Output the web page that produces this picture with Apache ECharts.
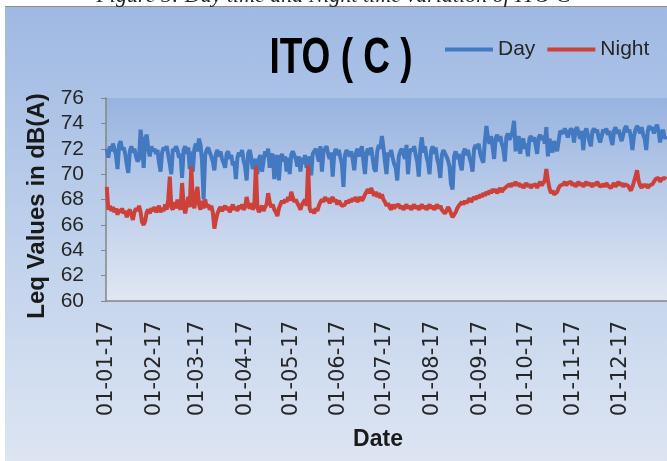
<!DOCTYPE html>
<html>
<head>
<meta charset="utf-8">
<script src="https://cdn.jsdelivr.net/npm/echarts@6/dist/echarts.min.js"></script>
<style>
html,body{margin:0;padding:0;background:#fff;overflow:hidden;}
#bg{position:absolute;left:5px;top:6px;width:680px;height:470px;
 background:linear-gradient(to bottom,#9fb9e3 0%,#bccfeb 45%,#dfe6f3 100%);
 border-top:1px solid #8d8d8d;}
#chart{position:absolute;left:0;top:0;width:667px;height:461px;}
</style>
</head>
<body>
<div id="bg"></div>
<div id="chart"></div>
<script>
// Tick labels on the date axis (first of each month)
const monthTickLabels = ['01-01-17','01-02-17','01-03-17','01-04-17','01-05-17','01-06-17',
  '01-07-17','01-08-17','01-09-17','01-10-17','01-11-17','01-12-17'];
const yTicks = [60,62,64,66,68,70,72,74,76];
const seriesNames = ['Day','Night'];

// Daily Leq (dB(A)) – Day, 2017-01-01 .. 2017-12-31 (one row per week)
const dayValues = [
72.0,71.3,72.2,71.8,72.4,72.0,71.5,
70.4,72.3,72.6,71.9,72.1,71.6,70.8,
70.1,71.8,72.2,71.7,72.0,71.4,71.0,
71.2,73.5,72.4,70.5,72.8,73.1,72.0,
71.4,72.2,71.8,72.0,71.6,71.9,70.9,
70.2,71.7,72.1,71.9,72.2,71.5,70.8,
70.0,72.0,71.8,72.2,71.9,71.3,71.6,
69.7,71.9,72.2,71.6,72.1,70.4,71.8,
70.2,72.0,72.4,71.8,72.8,72.3,71.0,
68.0,71.5,71.9,72.1,71.7,71.4,71.0,
70.3,71.6,71.9,71.4,71.8,71.2,70.9,
70.5,71.6,71.8,71.2,71.5,70.7,71.0,
69.6,71.3,71.7,71.4,71.9,71.1,70.6,
69.5,71.6,71.9,71.3,70.4,70.8,71.2,
70.0,71.2,71.5,70.2,71.0,71.8,71.4,
72.0,70.5,71.4,71.6,69.6,71.0,71.5,
69.5,71.2,71.6,71.0,71.4,70.2,71.3,
70.0,71.5,71.8,71.9,71.2,70.6,71.4,
70.2,71.3,70.8,71.5,70.5,70.9,71.4,
69.9,71.6,71.8,72.0,71.5,71.0,72.2,
70.2,71.8,72.0,72.2,71.6,71.2,71.7,
69.8,71.6,72.0,71.5,71.9,71.3,70.8,
69.0,71.5,71.9,72.0,71.4,71.8,71.2,
70.3,71.6,72.0,71.4,71.8,72.2,71.0,
70.0,71.7,72.0,71.5,72.1,71.3,70.4,
70.2,71.8,72.3,72.0,73.0,72.1,71.0,
70.0,71.7,71.4,71.9,71.3,70.8,70.5,
69.5,71.4,71.8,72.0,71.6,71.2,72.3,
70.0,71.6,72.0,71.8,72.2,71.5,71.0,
69.8,72.0,72.9,71.7,72.2,71.4,70.9,
70.0,71.8,72.2,71.6,72.1,71.2,70.7,
69.7,71.5,71.9,72.0,71.4,71.1,70.6,
69.2,68.8,71.4,71.8,71.2,71.6,70.8,
70.3,71.7,72.0,71.5,71.9,71.3,70.9,
70.2,72.0,72.3,72.0,72.4,71.6,71.2,
70.9,72.6,73.8,72.9,72.4,73.0,72.2,
71.2,72.8,73.1,72.6,73.0,72.4,72.0,
71.0,72.9,73.2,72.7,73.0,73.4,74.2,
71.8,72.6,73.0,71.6,72.5,72.8,72.0,
72.4,71.4,72.8,73.0,72.6,72.9,72.3,
71.6,72.9,73.1,72.7,73.0,72.4,73.7,
71.4,72.8,72.3,71.7,72.6,72.2,71.8,
72.6,73.4,73.5,73.2,73.6,73.3,72.9,
73.3,73.6,73.4,72.5,73.5,73.7,73.2,
72.8,73.4,71.9,73.3,73.6,73.1,72.6,
72.2,73.4,73.6,73.3,73.5,72.9,72.5,
72.4,73.5,73.3,73.6,73.1,73.4,72.8,
72.3,73.4,73.7,73.2,73.5,73.0,72.6,
72.7,73.6,73.8,73.3,73.5,72.9,71.9,
73.0,73.5,73.8,73.6,73.2,73.7,73.1,
72.8,71.9,73.4,73.8,73.5,73.7,73.2,
73.6,73.9,73.4,72.5,73.2,73.5,72.8,
73.0
];

// Daily Leq (dB(A)) – Night
const nightValues = [
69.0,67.2,67.5,67.1,67.4,67.0,67.3,
66.8,67.2,67.0,67.3,66.9,67.1,66.6,
67.0,67.2,66.8,66.4,67.0,67.3,67.1,
67.5,67.0,66.2,66.0,66.3,67.0,67.2,
66.9,67.3,67.1,67.4,67.0,67.2,67.5,
67.0,67.3,67.1,67.6,67.2,68.0,69.8,
67.4,67.2,67.8,67.3,68.0,67.5,67.2,
69.3,67.6,66.9,67.5,68.2,67.4,70.6,
67.8,67.3,68.4,69.0,67.6,67.2,67.9,
67.3,68.0,67.4,67.6,67.2,67.5,67.0,
65.7,66.4,66.9,67.2,67.4,67.1,67.3,
67.5,67.2,67.4,67.0,67.3,67.6,67.2,
67.4,67.1,67.5,67.3,67.6,67.2,67.4,
68.2,67.6,67.3,67.7,67.2,67.5,70.6,
67.4,67.0,67.3,67.5,67.1,67.4,67.6,
68.5,67.8,67.4,67.6,67.2,67.0,66.7,
67.3,67.6,67.9,67.7,68.0,67.8,68.2,
67.9,68.6,68.2,67.8,68.0,67.7,67.5,
67.2,67.6,67.8,68.0,67.5,70.7,67.3,
67.0,67.2,66.9,67.3,67.1,67.5,67.8,
68.0,67.8,68.2,67.9,68.1,67.7,68.0,
68.2,67.8,68.0,67.6,67.9,67.7,67.5,
67.4,67.6,67.9,67.7,68.0,67.8,68.1,
67.9,68.2,67.8,68.0,68.2,67.9,68.1,
68.4,68.6,68.8,68.5,68.9,68.6,68.3,
68.6,68.2,68.5,68.1,68.4,68.0,67.8,
67.5,67.7,67.4,67.2,67.6,67.3,67.5,
67.4,67.6,67.3,67.5,67.2,67.4,67.6,
67.3,67.5,67.2,67.4,67.6,67.3,67.5,
67.2,67.4,67.6,67.3,67.5,67.2,67.4,
67.6,67.3,67.5,67.2,67.4,67.6,67.3,
67.5,67.2,67.3,66.9,67.1,67.4,67.2,
66.9,66.6,66.5,67.0,67.3,67.5,67.6,
67.8,67.6,67.9,67.7,67.9,68.1,67.8,
68.0,68.2,68.0,68.3,68.1,68.4,68.2,
68.5,68.3,68.6,68.4,68.7,68.5,68.8,
68.6,68.8,68.5,68.7,68.9,68.6,68.8,
68.7,69.0,68.9,69.2,69.0,69.3,69.1,
69.4,69.1,69.3,69.0,69.2,68.9,69.1,
69.3,69.0,69.2,68.9,69.1,69.0,69.2,
68.9,69.2,69.4,69.1,69.3,69.5,70.4,
69.5,68.9,68.5,68.7,68.4,68.3,68.6,
68.9,69.1,69.0,69.2,69.4,69.1,69.3,
69.2,69.4,69.1,69.3,69.0,69.2,69.4,
69.1,69.3,69.0,69.2,69.4,69.1,69.3,
69.2,69.0,69.3,69.1,69.4,69.2,69.0,
68.9,69.2,69.0,69.3,69.1,69.2,68.9,
69.1,69.3,69.0,69.2,69.4,69.1,69.3,
69.0,69.2,69.3,69.1,68.9,68.7,69.0,
69.4,69.8,70.3,69.5,69.1,68.9,69.2,
69.0,69.2,68.9,69.1,69.0,69.2,69.4,
69.6,69.5,69.7,69.4,69.6,69.5,69.7,
69.6
];

// Category dates (DD-MM-YY), one per day of 2017
const dates = [];
for (let d = 0; d < dayValues.length; d++) {
  const dt = new Date(2017, 0, 1 + d);
  const dd = String(dt.getDate()).padStart(2, '0');
  const mm = String(dt.getMonth() + 1).padStart(2, '0');
  dates.push(dd + '-' + mm + '-17');
}

const chart = echarts.init(document.getElementById('chart'), null, {renderer: 'canvas'});
const option = {
  backgroundColor: 'transparent',
  animation: false,
  color: ['#4279c0', '#cc4139'],
  legend: {
    data: seriesNames,
    icon: 'rect',
    left: 440, top: 34,
    itemWidth: 48, itemHeight: 4, itemGap: 12,
    textStyle: {fontFamily: 'Liberation Sans', fontSize: 21, color: '#262626'}
  },
  graphic: [
    {type: 'text', left: 'center', top: -15,
     style: {text: 'Figure 5: Day time and Night time variation of ITO C', font: 'italic 22px "Liberation Serif"', fill: '#222'}},
    {type: 'text', x: 341, y: 59, scaleX: 0.74,
     style: {text: 'ITO ( C )', font: 'bold 50px "Liberation Sans"', fill: '#000', align: 'center', verticalAlign: 'middle'}},
    {type: 'text', x: 378, y: 440,
     style: {text: 'Date', font: 'bold 23px "Liberation Sans"', fill: '#1a1a1a', align: 'center', verticalAlign: 'middle'}},
    {type: 'text', x: 37, y: 206, rotation: Math.PI / 2,
     style: {text: 'Leq Values in dB(A)', font: 'bold 24px "Liberation Sans"', fill: '#1a1a1a', align: 'center', verticalAlign: 'middle'}}
  ],
  grid: {
    left: 106, right: -7, top: 98, bottom: 160,
    show: true, borderWidth: 0,
    backgroundColor: {type: 'linear', x: 0, y: 0, x2: 0, y2: 1,
      colorStops: [{offset: 0, color: '#97b3df'}, {offset: 0.5, color: '#bccdea'}, {offset: 1, color: '#e1e7f3'}]}
  },
  xAxis: {
    type: 'category',
    data: dates,
    boundaryGap: true,
    axisLine: {show: true, lineStyle: {color: '#868686', width: 1.5}},
    axisTick: {show: false},
    splitLine: {show: false},
    axisLabel: {
      interval: function (i, v) { return monthTickLabels.indexOf(v) >= 0; },
      rotate: 90, margin: 20,
      fontFamily: 'DejaVu Sans', fontSize: 21, color: '#262626'
    }
  },
  yAxis: {
    type: 'value', min: yTicks[0], max: yTicks[yTicks.length - 1], interval: 2,
    axisLine: {show: true, lineStyle: {color: '#868686', width: 1.5}},
    axisTick: {show: true, inside: false, length: 5, lineStyle: {color: '#868686'}},
    splitLine: {show: false},
    axisLabel: {margin: 22, fontFamily: 'Liberation Sans', fontSize: 21, color: '#262626'}
  },
  series: [
    {name: seriesNames[0], type: 'line', data: dayValues, showSymbol: false, symbol: 'none',
     lineStyle: {width: 4}, z: 3},
    {name: seriesNames[1], type: 'line', data: nightValues, showSymbol: false, symbol: 'none',
     lineStyle: {width: 4}, z: 4}
  ]
};
chart.setOption(option);
</script>
</body>
</html>
